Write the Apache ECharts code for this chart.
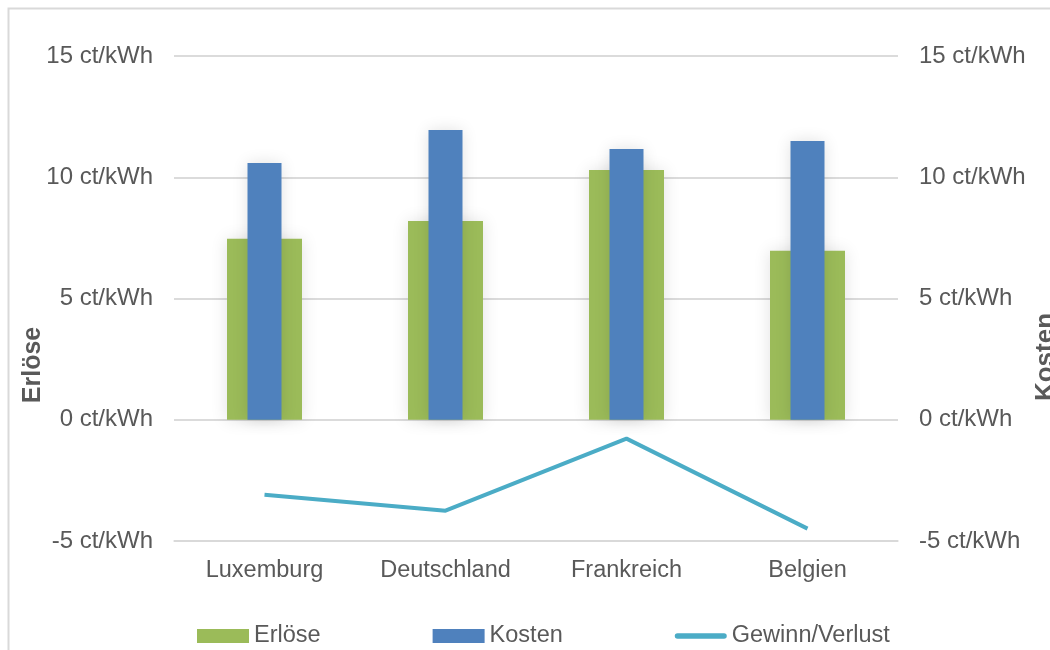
<!DOCTYPE html>
<html>
<head>
<meta charset="utf-8">
<script src="https://cdn.jsdelivr.net/npm/echarts@6/dist/echarts.min.js"></script>
<style>
  html, body { margin: 0; padding: 0; background: #fff; }
  #chart { width: 1050px; height: 650px; }
</style>
</head>
<body>
<div id="chart"></div>
<script>
    var laender = ['Luxemburg', 'Deutschland', 'Frankreich', 'Belgien'];
    var erloese = [7.46, 8.2, 10.3, 6.97];
    var kosten = [10.59, 11.95, 11.17, 11.5];
    var gewinn = [-3.09, -3.75, -0.78, -4.49];

    var gridColor = '#d9d9d9';
    var textColor = '#595959';
    var font = 'Liberation Sans, Arial, sans-serif';

    var chart = echarts.init(document.getElementById('chart'));

    function valueAxis(position) {
        return {
            type: 'value',
            position: position,
            min: -5,
            max: 15,
            interval: 5,
            axisLine: { show: false },
            axisTick: { show: false },
            axisLabel: {
                formatter: '{value} ct/kWh',
                color: textColor,
                fontFamily: font,
                fontSize: 24,
                margin: 21
            },
            splitLine: { lineStyle: { color: gridColor, width: 1.5 } }
        };
    }

    var option = {
        backgroundColor: '#fff',
        animation: false,
        grid: { left: 174, right: 152, top: 56, bottom: 109 },
        graphic: [
            {
                type: 'rect',
                shape: { x: 8.5, y: 8.5, width: 1200, height: 800 },
                style: { fill: 'none', stroke: '#d9d9d9', lineWidth: 2 },
                silent: true
            },
            {
                type: 'text',
                x: 33, y: 365,
                rotation: Math.PI / 2,
                style: {
                    text: 'Erlöse', fill: textColor, font: 'bold 25px ' + font,
                    align: 'center', verticalAlign: 'middle'
                }
            },
            {
                type: 'text',
                x: 1046, y: 357,
                rotation: Math.PI / 2,
                style: {
                    text: 'Kosten', fill: textColor, font: 'bold 26px ' + font,
                    align: 'center', verticalAlign: 'middle'
                }
            }
        ],
        legend: {
            left: 192,
            top: 619,
            itemGap: 112,
            itemWidth: 52,
            itemHeight: 14,
            symbolKeepAspect: true,
            textStyle: { color: textColor, fontFamily: font, fontSize: 23.5 },
            data: [
                { name: 'Erlöse', icon: 'rect' },
                { name: 'Kosten', icon: 'rect' },
                { name: 'Gewinn/Verlust', icon: 'path://M3,0 L53,0 A3,3 0 0 1 53,6 L3,6 A3,3 0 0 1 3,0 Z' }
            ]
        },
        xAxis: [
            {
                type: 'category',
                data: laender,
                axisLine: { onZero: false, lineStyle: { color: gridColor, width: 1.5 } },
                axisTick: { show: false },
                axisLabel: { color: textColor, fontFamily: font, fontSize: 23.5, margin: 18 }
            },
            {
                type: 'category',
                data: laender,
                show: false
            }
        ],
        yAxis: [valueAxis('left'), valueAxis('right')],
        series: [
            {
                name: 'Erlöse',
                type: 'bar',
                data: erloese,
                barWidth: 75,
                itemStyle: {
                    color: '#9bbb59',
                    shadowBlur: 16,
                    shadowColor: 'rgba(0,0,0,0.12)'
                }
            },
            {
                name: 'Kosten',
                type: 'bar',
                xAxisIndex: 1,
                yAxisIndex: 1,
                data: kosten,
                barWidth: 34,
                itemStyle: {
                    color: '#4f81bd',
                    shadowBlur: 16,
                    shadowColor: 'rgba(0,0,0,0.12)'
                }
            },
            {
                name: 'Gewinn/Verlust',
                type: 'line',
                data: gewinn,
                symbol: 'none',
                lineStyle: { color: '#4bacc6', width: 4 },
                itemStyle: { color: '#4bacc6' }
            }
        ]
    };

    chart.setOption(option);
</script>
</body>
</html>
